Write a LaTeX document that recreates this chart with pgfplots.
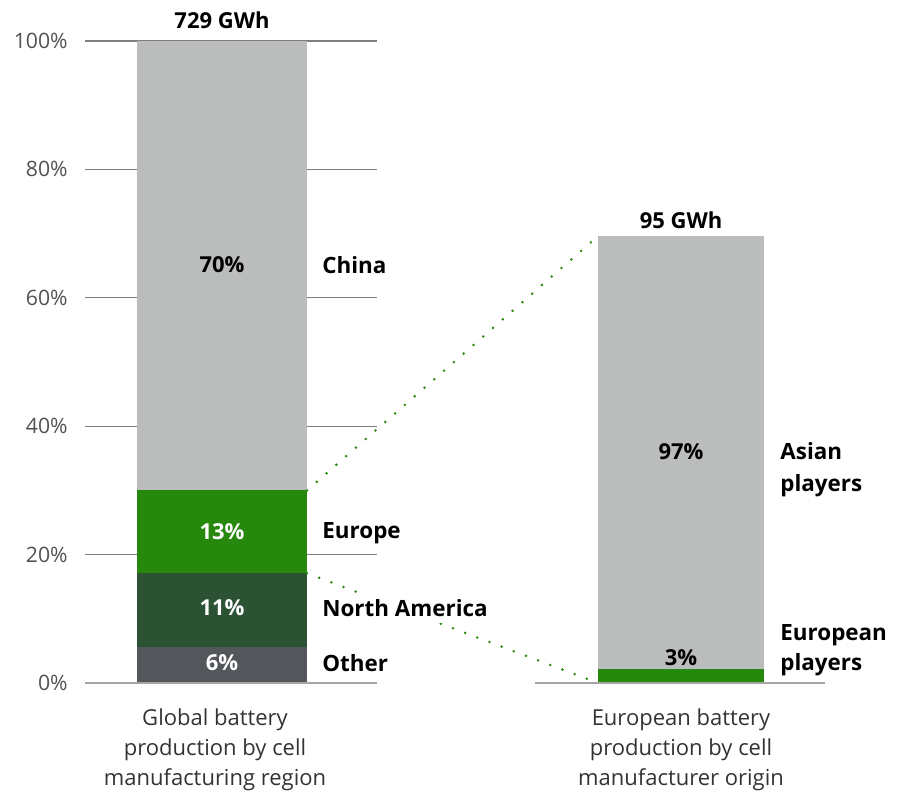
\documentclass[border=0pt]{standalone}
\usepackage{pgfplots}
\pgfplotsset{compat=1.18}
\usepackage{fontspec}
\setmainfont{Open Sans}
\definecolor{lgray}{HTML}{BBBDBC}
\definecolor{dgreen}{HTML}{2C5234}
\definecolor{mygreen}{HTML}{26890D}
\definecolor{dgray}{HTML}{53565A}
\definecolor{gridc}{HTML}{7F7F7F}
\definecolor{basec}{HTML}{A6A6A6}
\begin{document}
\begin{tikzpicture}
\begin{axis}[
  at={(0,0)}, anchor=south west,
  width=370pt, height=321pt, scale only axis,
  xmin=85, xmax=825, ymin=0, ymax=100,
  axis line style={draw=none},
  major tick length=0pt,
  xtick=\empty,
  ytick={0,20,40,60,80,100},
  yticklabels={0\%,20\%,40\%,60\%,80\%,100\%},
  yticklabel style={anchor=east, inner sep=0pt, xshift=-8.5pt, font=\fontsize{10.6}{12}\selectfont, text=black!68},
  clip=false,
]
% grid lines (left part)
\addplot[color=gridc, line width=0.6pt] coordinates {(85,20) (377,20)};
\addplot[color=gridc, line width=0.6pt] coordinates {(85,40) (377,40)};
\addplot[color=gridc, line width=0.6pt] coordinates {(85,60) (377,60)};
\addplot[color=gridc, line width=0.6pt] coordinates {(85,80) (377,80)};
\addplot[color=gridc, line width=0.6pt] coordinates {(85,100) (377,100)};
% left stacked bar
\addplot[fill=dgray, draw=none] coordinates {(137,0) (307,0) (307,5.6) (137,5.6)} -- cycle;
\addplot[fill=dgreen, draw=none] coordinates {(137,5.6) (307,5.6) (307,17.1) (137,17.1)} -- cycle;
\addplot[fill=mygreen, draw=none] coordinates {(137,17.1) (307,17.1) (307,30) (137,30)} -- cycle;
\addplot[fill=lgray, draw=none] coordinates {(137,30) (307,30) (307,100) (137,100)} -- cycle;
% right bar
\addplot[fill=mygreen, draw=none] coordinates {(598,0) (764,0) (764,2.2) (598,2.2)} -- cycle;
\addplot[fill=lgray, draw=none] coordinates {(598,2.2) (764,2.2) (764,69.6) (598,69.6)} -- cycle;
% baselines
\addplot[color=basec, line width=0.8pt] coordinates {(85,0) (377,0)};
\addplot[color=basec, line width=0.8pt] coordinates {(535,0) (825,0)};
% dotted connectors
\addplot[color=mygreen, line width=1.4pt, line cap=round, dash pattern=on 0pt off 6.5pt] coordinates {(307,30) (598,69.6)};
\addplot[color=mygreen, line width=1.4pt, line cap=round, dash pattern=on 0pt off 6.5pt] coordinates {(307,17.1) (598,0)};
% value labels
\node[font=\bfseries\fontsize{11}{13}\selectfont] at (axis cs:222,103.3) {729 GWh};
\node[font=\bfseries\fontsize{11}{13}\selectfont] at (axis cs:681,72.1) {95 GWh};
\node[font=\bfseries\fontsize{11}{13}\selectfont] at (axis cs:222,65.1) {70\%};
\node[font=\bfseries\fontsize{11}{13}\selectfont, text=white] at (axis cs:222,23.6) {13\%};
\node[font=\bfseries\fontsize{11}{13}\selectfont, text=white] at (axis cs:222,11.7) {11\%};
\node[font=\bfseries\fontsize{11}{13}\selectfont, text=white] at (axis cs:222,3.1) {6\%};
\node[font=\bfseries\fontsize{11}{13}\selectfont] at (axis cs:681,36.0) {97\%};
\node[font=\bfseries\fontsize{11}{13}\selectfont] at (axis cs:681,4.0) {3\%};
% category labels
\node[font=\bfseries\fontsize{11.2}{13}\selectfont, anchor=west, inner sep=0pt] at (axis cs:322,65.1) {China};
\node[font=\bfseries\fontsize{11.2}{13}\selectfont, anchor=west, inner sep=0pt] at (axis cs:322,23.4) {Europe};
\node[font=\bfseries\fontsize{11.2}{13}\selectfont, anchor=west, inner sep=0pt, fill=white, inner ysep=3pt] at (axis cs:322,11.7) {North America};
\node[font=\bfseries\fontsize{11.2}{13}\selectfont, anchor=west, inner sep=0pt] at (axis cs:322,3.1) {Other};
\node[font=\bfseries\fontsize{11.2}{16}\selectfont, anchor=west, inner sep=0pt, align=left] at (axis cs:780,33.3) {Asian\\players};
\node[font=\bfseries\fontsize{11.2}{15}\selectfont, anchor=west, inner sep=0pt, align=left] at (axis cs:780,5.1) {European\\players};
% bottom labels
\node[font=\fontsize{11}{15}\selectfont, text=black!80, align=center] at (axis cs:215,-10.4) {Global battery\\production by cell\\manufacturing region};
\node[font=\fontsize{11}{15}\selectfont, text=black!80, align=center] at (axis cs:681,-10.4) {European battery\\production by cell\\manufacturer origin};
\end{axis}
\pgfresetboundingbox
\useasboundingbox (-42.5pt,-56.5pt) rectangle (409pt,341.5pt);
\end{tikzpicture}
\end{document}
